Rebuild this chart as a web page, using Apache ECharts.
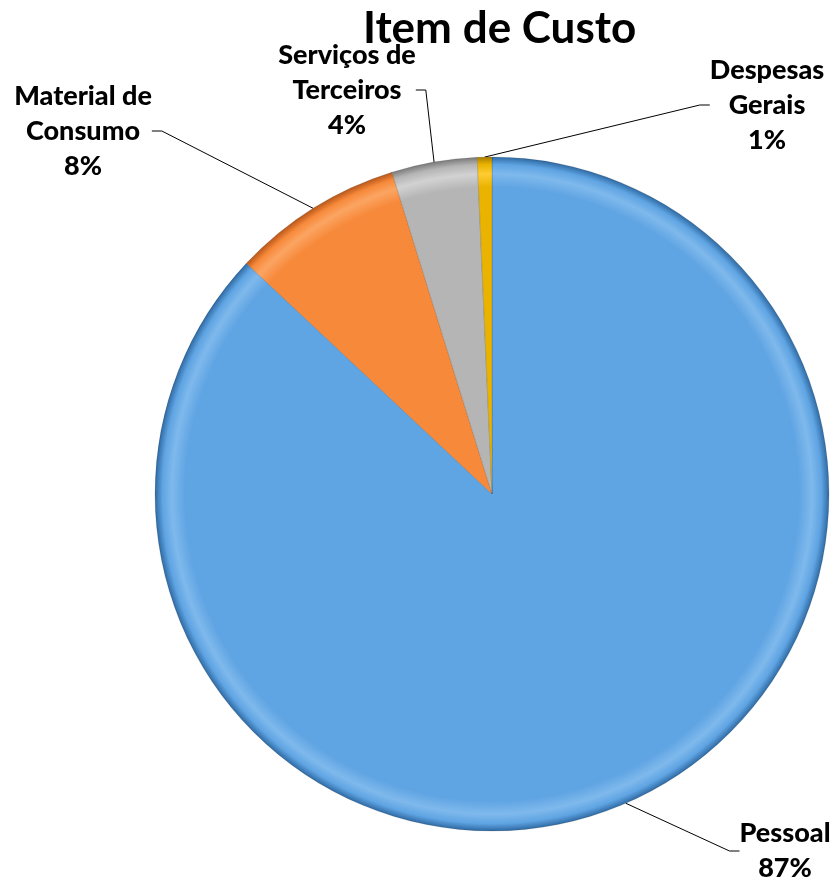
<!DOCTYPE html>
<html>
<head>
<meta charset="utf-8">
<script src="https://cdn.jsdelivr.net/npm/echarts@6/dist/echarts.min.js"></script>
<style>
  html, body { margin: 0; padding: 0; background: #fff; }
  #chart { width: 835px; height: 881px; }
</style>
</head>
<body>
<div id="chart"></div>
<script>
// dados
const categories = ['Pessoal', 'Material de Consumo', 'Serviços de Terceiros', 'Despesas Gerais'];
const values = [87.0, 8.2, 4.1, 0.7];
const baseColors = ['#5fa4e3', '#f7893a', '#b5b5b5', '#e9b300'];
const edgeColors = ['#2f6aa3', '#b8571a', '#7a7a7a', '#a67c00'];
const lightColors = ['#7fb9ec', '#fba563', '#d2d2d2', '#ffcc33'];

// posição dos rótulos (centro do bloco de texto)
const labelPos = [[785, 851], [83, 131], [347, 90], [767, 105]];

const cx = 492, cy = 494, R = 337;

function bevel(i) {
  return {
    type: 'radial', x: cx, y: cy, r: R, global: true,
    colorStops: [
      { offset: 0, color: baseColors[i] },
      { offset: 0.91, color: baseColors[i] },
      { offset: 0.95, color: lightColors[i] },
      { offset: 0.978, color: baseColors[i] },
      { offset: 1, color: edgeColors[i] }
    ]
  };
}

const chart = echarts.init(document.getElementById('chart'));

chart.setOption({
  animation: false,
  title: {
    text: 'Item de Custo',
    left: 358,
    top: 2,
    textStyle: { fontFamily: 'Lato', fontWeight: 'bold', fontSize: 44, color: '#000' }
  },
  series: [{
    type: 'pie',
    center: [cx, cy],
    radius: [0, R],
    startAngle: 90,
    clockwise: true,
    data: categories.map((name, i) => ({
      name,
      value: values[i],
      itemStyle: { color: bevel(i) }
    })),
    itemStyle: { borderColor: 'rgba(0,0,0,0.25)', borderWidth: 0.5 },
    label: {
      show: true,
      position: 'outside',
      fontFamily: 'Lato',
      fontWeight: 900,
      fontSize: 27,
      lineHeight: 35,
      color: '#000',
      align: 'center',
      formatter: p => {
        const n = p.name;
        const k = n.lastIndexOf(' ');
        const txt = k > 0 ? n.slice(0, k) + '\n' + n.slice(k + 1) : n;
        return txt + '\n' + Math.round(p.percent) + '%';
      }
    },
    labelLine: {
      show: true,
      length: 20,
      length2: 10,
      lineStyle: { color: '#000', width: 1 }
    },
    labelLayout: p => ({
      x: labelPos[p.dataIndex][0],
      y: labelPos[p.dataIndex][1],
      align: 'center',
      verticalAlign: 'middle'
    }),
    emphasis: { disabled: true }
  }]
});
</script>
</body>
</html>
